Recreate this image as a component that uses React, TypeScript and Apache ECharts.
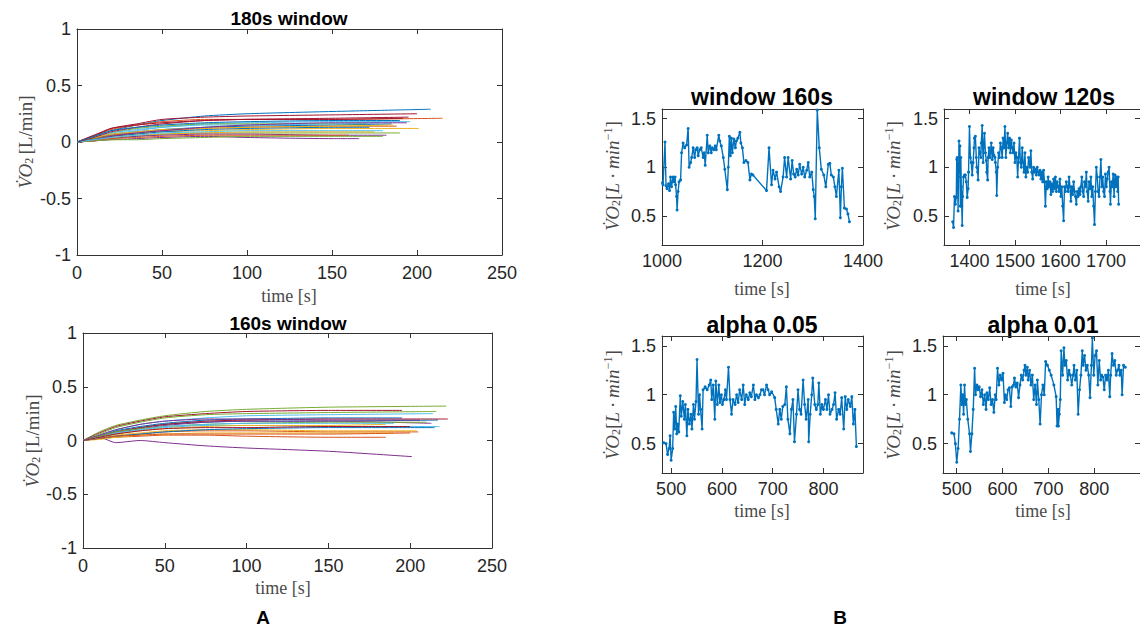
import React, { useEffect, useRef } from "react";
import * as echarts from "echarts";

// MATLAB default colour order
const PALETTE = ["#0072BD", "#D95319", "#EDB120", "#7E2F8E", "#77AC30", "#4DBEEE", "#A2142F"];

// Panel A: key times (s) at which each curve was read; last value of each row is at its end time
const KEY_T = [0, 10, 20, 35, 50, 75, 100, 150];

// "180s window" curves
const W180_END = [208, 215, 201, 166, 190, 196, 200, 185, 188, 175, 182, 170, 178, 192, 172, 160, 186, 194, 180, 180, 195, 190];
const W180_VALS = [
  [0, 0.05, 0.1, 0.15, 0.19, 0.23, 0.25, 0.27, 0.29],
  [0, 0.06, 0.11, 0.15, 0.18, 0.2, 0.2, 0.2, 0.21],
  [0, 0.02, 0.05, 0.07, 0.09, 0.1, 0.11, 0.12, 0.12],
  [0, 0.01, 0.02, 0.03, 0.04, 0.05, 0.04, 0.03, 0.03],
  [0, 0.02, 0.04, 0.05, 0.07, 0.08, 0.08, 0.08, 0.08],
  [0, 0.03, 0.07, 0.1, 0.13, 0.16, 0.17, 0.18, 0.18],
  [0, 0.05, 0.12, 0.16, 0.2, 0.22, 0.23, 0.24, 0.25],
  [0, 0.03, 0.06, 0.09, 0.11, 0.13, 0.14, 0.15, 0.16],
  [0, 0.03, 0.06, 0.08, 0.1, 0.12, 0.13, 0.14, 0.14],
  [0, 0.02, 0.04, 0.06, 0.07, 0.08, 0.09, 0.09, 0.09],
  [0, 0.01, 0.03, 0.05, 0.06, 0.07, 0.07, 0.06, 0.06],
  [0, 0.03, 0.08, 0.12, 0.14, 0.16, 0.16, 0.16, 0.16],
  [0, 0.04, 0.08, 0.11, 0.13, 0.15, 0.15, 0.16, 0.17],
  [0, 0.06, 0.12, 0.15, 0.17, 0.19, 0.2, 0.2, 0.21],
  [0, 0.02, 0.05, 0.07, 0.09, 0.11, 0.12, 0.13, 0.13],
  [0, 0.01, 0.03, 0.04, 0.05, 0.06, 0.06, 0.06, 0.06],
  [0, 0.04, 0.07, 0.09, 0.11, 0.12, 0.13, 0.14, 0.15],
  [0, 0.02, 0.05, 0.08, 0.1, 0.13, 0.15, 0.17, 0.17],
  [0, 0.01, 0.02, 0.02, 0.03, 0.04, 0.05, 0.05, 0.05],
  [0, 0.02, 0.04, 0.06, 0.08, 0.09, 0.1, 0.1, 0.1],
  [0, 0.04, 0.09, 0.13, 0.16, 0.19, 0.2, 0.21, 0.22],
  [0, 0.05, 0.1, 0.13, 0.15, 0.17, 0.18, 0.19, 0.19],
];

// "160s window" curves
const W160_END = [217, 205, 204, 201, 222, 218, 195, 195, 185, 190, 213, 216, 214, 223, 215, 200, 185, 206, 210, 190, 200];
const W160_VALS = [
  [0, 0.04, 0.08, 0.12, 0.15, 0.17, 0.18, 0.18, 0.19],
  [0, 0.02, 0.04, 0.06, 0.08, 0.09, 0.09, 0.08, 0.08],
  [0, 0.02, 0.05, 0.07, 0.09, 0.1, 0.1, 0.09, 0.09],
  [0, 0.03, -0.02, 0.0, -0.02, -0.05, -0.07, -0.1, -0.15],
  [0, 0.08, 0.14, 0.19, 0.23, 0.27, 0.29, 0.31, 0.32],
  [0, 0.03, 0.06, 0.1, 0.12, 0.14, 0.14, 0.13, 0.13],
  [0, 0.07, 0.13, 0.18, 0.22, 0.25, 0.27, 0.28, 0.28],
  [0, 0.04, 0.09, 0.13, 0.16, 0.19, 0.2, 0.21, 0.21],
  [0, 0.02, 0.03, 0.04, 0.05, 0.05, 0.04, 0.03, 0.03],
  [0, 0.01, 0.03, 0.05, 0.06, 0.07, 0.07, 0.07, 0.07],
  [0, 0.03, 0.07, 0.11, 0.14, 0.17, 0.18, 0.18, 0.16],
  [0, 0.06, 0.12, 0.17, 0.21, 0.24, 0.25, 0.26, 0.27],
  [0, 0.05, 0.1, 0.15, 0.18, 0.21, 0.23, 0.24, 0.25],
  [0, 0.04, 0.08, 0.12, 0.15, 0.18, 0.19, 0.2, 0.2],
  [0, 0.02, 0.04, 0.06, 0.08, 0.1, 0.11, 0.12, 0.12],
  [0, 0.02, 0.04, 0.05, 0.06, 0.06, 0.06, 0.06, 0.07],
  [0, 0.03, 0.06, 0.09, 0.11, 0.13, 0.14, 0.14, 0.15],
  [0, 0.05, 0.1, 0.15, 0.18, 0.2, 0.2, 0.19, 0.19],
  [0, 0.04, 0.08, 0.11, 0.13, 0.15, 0.16, 0.17, 0.17],
  [0, 0.03, 0.07, 0.1, 0.13, 0.15, 0.16, 0.16, 0.16],
  [0, 0.03, 0.06, 0.09, 0.11, 0.12, 0.12, 0.13, 0.13],
];

// Panel B series: [time s, VO2 L/min]
const WIN160 = [
  [1001, 0.84], [1002, 0.82], [1006, 1.26], [1008, 0.81], [1010, 0.78], [1013, 0.83], [1015, 0.76], [1017, 0.9],
  [1019, 0.8], [1022, 0.9], [1024, 0.85], [1026, 0.9], [1027, 0.82], [1029, 0.7], [1030, 0.56], [1032, 0.75],
  [1034, 0.85], [1037, 0.87], [1039, 1.15], [1042, 1.25], [1045, 1.2], [1049, 1.23], [1052, 1.4], [1054, 1.0],
  [1057, 1.05], [1059, 1.1], [1062, 1.2], [1065, 1.1], [1067, 1.18], [1070, 1.2], [1072, 1.12], [1075, 1.18],
  [1078, 1.2], [1082, 1.1], [1084, 1.15], [1086, 1.02], [1090, 1.33], [1092, 1.15], [1095, 1.22], [1098, 1.15],
  [1100, 1.2], [1103, 1.18], [1106, 1.22], [1108, 1.18], [1113, 1.33], [1115, 1.27], [1118, 1.22], [1122, 1.1],
  [1125, 0.98], [1130, 0.77], [1132, 1.0], [1134, 1.32], [1136, 1.12], [1138, 1.3], [1140, 1.15], [1143, 1.29],
  [1146, 1.2], [1148, 1.27], [1151, 1.3], [1155, 1.36], [1157, 1.25], [1160, 1.2], [1163, 1.05], [1167, 1.07],
  [1171, 1.05], [1175, 0.87], [1178, 0.93], [1181, 0.92], [1208, 0.76], [1213, 1.2], [1218, 0.82], [1221, 0.97],
  [1225, 0.88], [1228, 0.95], [1233, 0.8], [1236, 0.75], [1241, 0.9], [1244, 1.1], [1248, 0.9], [1251, 1.1],
  [1256, 0.88], [1259, 1.07], [1262, 0.93], [1265, 0.9], [1268, 0.98], [1271, 0.92], [1274, 1.03], [1278, 0.93],
  [1281, 1.0], [1284, 0.9], [1288, 0.97], [1291, 1.05], [1294, 0.9], [1298, 0.95], [1301, 0.77], [1303, 0.7],
  [1305, 0.47], [1309, 1.59], [1313, 1.2], [1317, 0.98], [1322, 0.92], [1326, 0.8], [1331, 1.03], [1334, 1.04],
  [1337, 0.92], [1341, 0.9], [1344, 0.8], [1347, 0.7], [1352, 0.97], [1355, 0.48], [1357, 0.8], [1359, 0.99],
  [1363, 0.58], [1367, 0.57], [1370, 0.52], [1373, 0.44],
];

const WIN120 = [
  [1363, 0.44], [1365, 0.38], [1367, 0.7], [1369, 0.62], [1371, 0.69], [1372, 1.08], [1373, 1.1], [1374, 0.85],
  [1375, 0.55], [1376, 0.9], [1377, 1.27], [1378, 0.95], [1379, 1.22], [1380, 0.6], [1381, 1.1], [1382, 0.8],
  [1383, 0.6], [1384, 0.4], [1385, 0.7], [1387, 0.9], [1389, 0.92], [1391, 0.92], [1393, 0.85], [1395, 0.69],
  [1397, 0.78], [1398, 0.95], [1400, 1.42], [1402, 1.1], [1404, 1.05], [1406, 0.92], [1408, 1.05], [1410, 1.2],
  [1411, 1.3], [1413, 1.32], [1415, 1.1], [1416, 1.0], [1418, 0.95], [1419, 0.87], [1421, 1.2], [1423, 1.15],
  [1425, 1.1], [1426, 1.25], [1428, 1.43], [1430, 1.05], [1431, 1.2], [1433, 1.35], [1435, 1.15], [1437, 1.07],
  [1438, 0.95], [1440, 0.87], [1441, 1.1], [1443, 1.2], [1445, 1.1], [1446, 1.15], [1448, 1.25], [1450, 1.08],
  [1452, 1.2], [1454, 1.12], [1456, 1.1], [1457, 1.05], [1459, 0.95], [1460, 0.71], [1462, 1.0], [1464, 1.15],
  [1466, 1.1], [1468, 1.25], [1470, 1.2], [1472, 1.1], [1474, 1.3], [1476, 1.2], [1478, 1.42], [1480, 1.1],
  [1482, 1.25], [1484, 1.35], [1486, 1.2], [1488, 1.3], [1490, 1.15], [1492, 1.28], [1494, 1.2], [1496, 1.15],
  [1498, 1.25], [1500, 1.05], [1502, 1.15], [1504, 1.1], [1506, 0.9], [1508, 1.1], [1510, 1.3], [1512, 1.05],
  [1514, 1.0], [1516, 1.2], [1518, 1.05], [1520, 0.95], [1522, 1.15], [1524, 0.9], [1526, 1.0], [1528, 0.95],
  [1530, 1.1], [1533, 1.0], [1535, 1.17], [1537, 0.95], [1539, 0.88], [1541, 1.0], [1543, 0.95], [1545, 0.98],
  [1547, 0.92], [1549, 1.0], [1551, 0.95], [1553, 0.92], [1555, 0.97], [1557, 0.88], [1559, 0.95], [1561, 0.85],
  [1563, 0.97], [1565, 0.85], [1567, 0.6], [1569, 0.85], [1571, 0.78], [1573, 0.9], [1575, 0.8], [1577, 0.85],
  [1579, 0.72], [1581, 0.83], [1583, 0.75], [1585, 0.88], [1587, 0.78], [1589, 0.9], [1591, 0.75], [1593, 0.85],
  [1595, 0.8], [1597, 0.75], [1599, 0.88], [1601, 0.7], [1603, 0.8], [1605, 0.6], [1607, 0.45], [1609, 0.8],
  [1611, 0.75], [1613, 0.85], [1615, 0.8], [1617, 0.75], [1619, 0.9], [1621, 0.8], [1623, 0.65], [1625, 0.8],
  [1627, 0.72], [1629, 0.85], [1631, 0.75], [1633, 0.7], [1635, 0.62], [1637, 0.75], [1639, 0.7], [1641, 0.78],
  [1643, 0.72], [1645, 0.8], [1647, 0.9], [1649, 0.75], [1651, 0.7], [1653, 0.85], [1655, 0.8], [1657, 0.95],
  [1659, 0.75], [1661, 0.65], [1663, 0.85], [1665, 0.78], [1667, 0.9], [1669, 0.7], [1671, 0.8], [1673, 0.6],
  [1675, 0.41], [1677, 0.75], [1679, 1.0], [1681, 0.9], [1683, 0.75], [1685, 0.7], [1687, 0.9], [1689, 1.08],
  [1691, 0.8], [1693, 0.9], [1695, 0.75], [1697, 0.7], [1699, 0.93], [1701, 0.8], [1703, 0.88], [1705, 0.95],
  [1707, 1.0], [1709, 0.75], [1710, 0.62], [1712, 0.85], [1714, 0.8], [1716, 0.93], [1718, 0.7], [1720, 0.92],
  [1722, 0.8], [1724, 0.9], [1726, 0.75], [1727, 0.9], [1728, 0.62],
];

const ALPHA05 = [
  [485, 0.51], [490, 0.5], [493, 0.39], [496, 0.45], [498, 0.58], [500, 0.33], [503, 0.45], [505, 0.82],
  [507, 0.65], [509, 0.88], [511, 0.6], [513, 0.7], [515, 0.62], [518, 0.99], [520, 0.78], [523, 0.93],
  [526, 0.75], [528, 0.9], [531, 0.58], [533, 0.85], [536, 0.7], [539, 0.8], [541, 0.65], [544, 0.9],
  [546, 0.75], [549, 0.93], [551, 1.36], [554, 0.8], [556, 1.0], [558, 0.85], [561, 0.65], [563, 1.05],
  [567, 1.08], [571, 1.05], [575, 1.1], [578, 1.15], [580, 0.95], [583, 1.1], [586, 0.75], [588, 1.14],
  [591, 0.9], [594, 1.1], [596, 0.92], [599, 1.0], [601, 0.9], [604, 0.95], [607, 1.05], [609, 0.95],
  [613, 1.28], [616, 0.95], [619, 0.8], [622, 0.95], [626, 0.9], [629, 1.0], [632, 0.92], [635, 1.05],
  [639, 0.95], [642, 1.1], [645, 0.9], [648, 1.0], [652, 0.95], [655, 1.02], [658, 0.98], [662, 1.1],
  [665, 0.95], [668, 1.0], [672, 0.97], [675, 1.0], [678, 1.05], [681, 1.05], [684, 1.0], [688, 1.1],
  [691, 1.05], [694, 1.0], [698, 1.03], [704, 0.97], [707, 0.85], [711, 0.7], [714, 0.85], [717, 0.75],
  [720, 0.88], [724, 0.9], [727, 1.08], [730, 0.75], [734, 0.6], [737, 0.85], [740, 0.95], [743, 0.52],
  [747, 0.8], [750, 1.05], [753, 0.85], [756, 0.8], [760, 1.15], [763, 0.9], [766, 0.75], [770, 0.95],
  [771, 0.52], [774, 0.8], [777, 1.0], [779, 1.17], [783, 0.9], [786, 0.85], [789, 0.9], [791, 1.12],
  [794, 0.8], [797, 0.9], [800, 0.85], [804, 0.95], [807, 0.85], [810, 1.0], [813, 0.8], [817, 0.85],
  [820, 0.9], [823, 1.02], [826, 0.75], [830, 0.85], [833, 0.8], [836, 0.97], [840, 0.65], [843, 0.98],
  [846, 0.85], [849, 0.95], [853, 0.88], [856, 0.98], [859, 0.7], [862, 0.85], [865, 0.47],
];

const ALPHA01 = [
  [489, 0.61], [494, 0.6], [497, 0.5], [500, 0.31], [503, 0.45], [506, 0.75], [509, 1.1], [511, 0.9],
  [513, 1.0], [515, 0.8], [517, 1.1], [519, 0.9], [521, 0.95], [524, 0.75], [528, 0.6], [530, 0.42],
  [533, 0.6], [536, 0.85], [539, 1.27], [541, 1.0], [544, 1.1], [546, 1.05], [549, 1.08], [552, 0.98],
  [555, 1.05], [558, 0.9], [561, 1.0], [564, 0.85], [566, 1.02], [569, 0.95], [572, 1.07], [575, 0.9],
  [578, 0.95], [581, 0.82], [584, 1.0], [586, 0.95], [589, 1.27], [592, 1.1], [595, 1.2], [598, 1.15],
  [601, 1.22], [604, 0.92], [606, 1.0], [609, 0.95], [612, 1.05], [615, 1.07], [618, 0.88], [621, 1.08],
  [624, 1.1], [626, 1.17], [629, 1.08], [632, 1.12], [635, 0.97], [638, 1.1], [641, 1.2], [644, 1.15],
  [647, 1.25], [649, 1.3], [651, 1.2], [654, 1.28], [656, 1.15], [659, 1.25], [662, 1.1], [665, 1.2],
  [668, 0.95], [671, 1.1], [674, 0.9], [676, 1.15], [679, 0.95], [682, 0.7], [685, 1.0], [688, 1.1],
  [691, 1.0], [694, 1.34], [698, 1.3], [702, 1.25], [706, 1.2], [712, 1.1], [717, 0.98], [719, 0.68],
  [721, 0.85], [722, 0.68], [724, 0.8], [726, 0.95], [728, 1.45], [731, 1.2], [734, 1.48], [736, 1.3],
  [739, 1.35], [742, 1.15], [745, 1.25], [748, 1.2], [751, 1.1], [754, 1.2], [756, 1.3], [759, 1.15],
  [762, 1.25], [765, 0.8], [768, 1.05], [771, 1.2], [774, 1.45], [776, 1.3], [779, 1.4], [782, 1.25],
  [785, 1.3], [788, 1.2], [791, 0.97], [794, 1.3], [796, 1.58], [799, 1.2], [802, 1.4], [805, 1.45],
  [808, 1.1], [811, 1.35], [814, 1.15], [816, 1.2], [819, 1.18], [822, 1.05], [825, 1.2], [828, 1.15],
  [831, 1.25], [834, 0.98], [836, 1.2], [839, 1.42], [842, 1.3], [845, 1.35], [848, 1.2], [851, 1.25],
  [854, 1.3], [856, 1.2], [859, 1.25], [861, 1.0], [864, 1.3], [868, 1.28],
];

const TICKS_A_X = [0, 50, 100, 150, 200, 250];
const TICKS_A_Y = [-1, -0.5, 0, 0.5, 1];
const TICKS_B_Y = [0.5, 1, 1.5];
const TICKS_W160_X = [1000, 1200, 1400];
const TICKS_W120_X = [1400, 1500, 1600, 1700];
const TICKS_ALPHA_X = [500, 600, 700, 800];

const AX = "#333333";
const SANS = "Liberation Sans, Arial, sans-serif";
const SERIF = "Liberation Serif, Times New Roman, serif";

function axisPair(kind: "x" | "y", gi: number, min: number, max: number, ticks: number[], margin: number) {
  const base: any = {
    gridIndex: gi,
    type: "value",
    min,
    max,
    splitLine: { show: false },
    axisLine: { show: true, onZero: false, lineStyle: { color: AX, width: 1 } },
    axisTick: { show: true, inside: true, length: 5, customValues: ticks, lineStyle: { color: AX, width: 1 } },
  };
  const label = {
    show: true,
    customValues: ticks,
    fontSize: 18,
    color: "#262626",
    fontFamily: SANS,
    margin,
    formatter: (v: number) => String(v),
  };
  return [
    { ...base, position: kind === "x" ? "bottom" : "left", axisLabel: label },
    { ...base, position: kind === "x" ? "top" : "right", axisLabel: { show: false } },
  ];
}

function curveData(end: number, vals: number[]) {
  const pts = KEY_T.map((t, i) => [t, vals[i]]);
  pts.push([end, vals[vals.length - 1]]);
  return pts;
}

export default function App() {
  const ref = useRef<HTMLDivElement>(null);
  useEffect(() => {
    if (!ref.current) return;
    const chart = echarts.init(ref.current, null, { renderer: "svg" });

    const grids = [
      { left: 77, top: 29, width: 425, height: 226 },
      { left: 83, top: 333, width: 409, height: 215 },
      { left: 662, top: 109, width: 201, height: 136 },
      { left: 944, top: 109, width: 201, height: 136 },
      { left: 662, top: 336, width: 201, height: 137 },
      { left: 943, top: 336, width: 201, height: 137 },
    ];

    const xAxis = [
      ...axisPair("x", 0, 0, 250, TICKS_A_X, 9),
      ...axisPair("x", 1, 0, 250, TICKS_A_X, 9),
      ...axisPair("x", 2, 1000, 1400, TICKS_W160_X, 7),
      ...axisPair("x", 3, 1344, 1775, TICKS_W120_X, 7),
      ...axisPair("x", 4, 482, 878, TICKS_ALPHA_X, 7),
      ...axisPair("x", 5, 470, 900, TICKS_ALPHA_X, 7),
    ];
    const yAxis = [
      ...axisPair("y", 0, -1, 1, TICKS_A_Y, 6),
      ...axisPair("y", 1, -1, 1, TICKS_A_Y, 6),
      ...axisPair("y", 2, 0.2, 1.6, TICKS_B_Y, 6),
      ...axisPair("y", 3, 0.2, 1.6, TICKS_B_Y, 6),
      ...axisPair("y", 4, 0.2, 1.6, TICKS_B_Y, 6),
      ...axisPair("y", 5, 0.2, 1.6, TICKS_B_Y, 6),
    ];

    const series: any[] = [];
    W180_VALS.forEach((v, i) => {
      series.push({
        type: "line",
        xAxisIndex: 0,
        yAxisIndex: 0,
        data: curveData(W180_END[i], v),
        showSymbol: false,
        smooth: 0.2,
        lineStyle: { width: 1, color: PALETTE[i % PALETTE.length] },
      });
    });
    W160_VALS.forEach((v, i) => {
      series.push({
        type: "line",
        xAxisIndex: 2,
        yAxisIndex: 2,
        data: curveData(W160_END[i], v),
        showSymbol: false,
        smooth: 0.2,
        lineStyle: { width: 1, color: PALETTE[i % PALETTE.length] },
      });
    });
    [WIN160, WIN120, ALPHA05, ALPHA01].forEach((d, k) => {
      const gi = k + 2;
      series.push({
        type: "line",
        xAxisIndex: gi * 2,
        yAxisIndex: gi * 2,
        data: d,
        showSymbol: true,
        showAllSymbol: true,
        symbol: "circle",
        symbolSize: 3,
        itemStyle: { color: "#0072BD" },
        lineStyle: { width: 1.4, color: "#0072BD" },
      });
    });

    const title = (text: string, x: number, y: number, size: number) => ({
      type: "text",
      x,
      y,
      style: { text, fill: "#000", font: `bold ${size}px ${SANS}`, align: "center", verticalAlign: "middle" },
    });
    const xname = (x: number, y: number) => ({
      type: "text",
      x,
      y,
      style: { text: "time [s]", fill: "#4a4a4a", font: `18px ${SERIF}`, align: "center", verticalAlign: "middle" },
    });
    const ynameA = (x: number, y: number) => ({
      type: "text",
      x,
      y,
      rotation: Math.PI / 2,
      style: {
        text: "{m|V\u0307O}{s|2} {r|[L/min]}",
        fill: "#4a4a4a",
        align: "center",
        verticalAlign: "middle",
        rich: {
          m: { fontFamily: SERIF, fontSize: 19, fontStyle: "italic", fill: "#4a4a4a" },
          s: { fontFamily: SERIF, fontSize: 12, fill: "#4a4a4a", padding: [8, 0, 0, 0] },
          r: { fontFamily: SERIF, fontSize: 19, fill: "#4a4a4a" },
        },
      },
    });
    const ynameB = (x: number, y: number) => ({
      type: "text",
      x,
      y,
      rotation: Math.PI / 2,
      style: {
        text: "{m|V\u0307O}{s|2}{r|[}{m|L \u00b7 min}{p|\u22121}{r|]}",
        fill: "#4a4a4a",
        align: "center",
        verticalAlign: "middle",
        rich: {
          m: { fontFamily: SERIF, fontSize: 19, fontStyle: "italic", fill: "#4a4a4a" },
          s: { fontFamily: SERIF, fontSize: 12, fill: "#4a4a4a", padding: [8, 0, 0, 0] },
          p: { fontFamily: SERIF, fontSize: 12, fill: "#4a4a4a", padding: [0, 0, 8, 0] },
          r: { fontFamily: SERIF, fontSize: 19, fill: "#4a4a4a" },
        },
      },
    });

    const graphic = [
      title("180s window", 289, 18, 19),
      title("160s window", 288, 323, 19),
      title("window 160s", 762, 97, 23),
      title("window 120s", 1044, 97, 23),
      title("alpha 0.05", 762, 325, 23),
      title("alpha 0.01", 1043, 325, 23),
      xname(289, 296),
      xname(283, 588),
      xname(762, 289),
      xname(1043, 289),
      xname(762, 511),
      xname(1043, 511),
      ynameA(25, 142),
      ynameA(32, 441),
      ynameB(612, 176),
      ynameB(893, 176),
      ynameB(612, 405),
      ynameB(893, 405),
      title("A", 263, 617, 19),
      title("B", 840, 617, 19),
    ];

    chart.setOption({
      animation: false,
      backgroundColor: "#ffffff",
      grid: grids,
      xAxis,
      yAxis,
      series,
      graphic,
    });
    return () => chart.dispose();
  }, []);

  return (
    <div
      ref={ref}
      style={{ position: "fixed", left: 0, top: 0, width: 1140, height: 628, background: "#fff" }}
    />
  );
}
